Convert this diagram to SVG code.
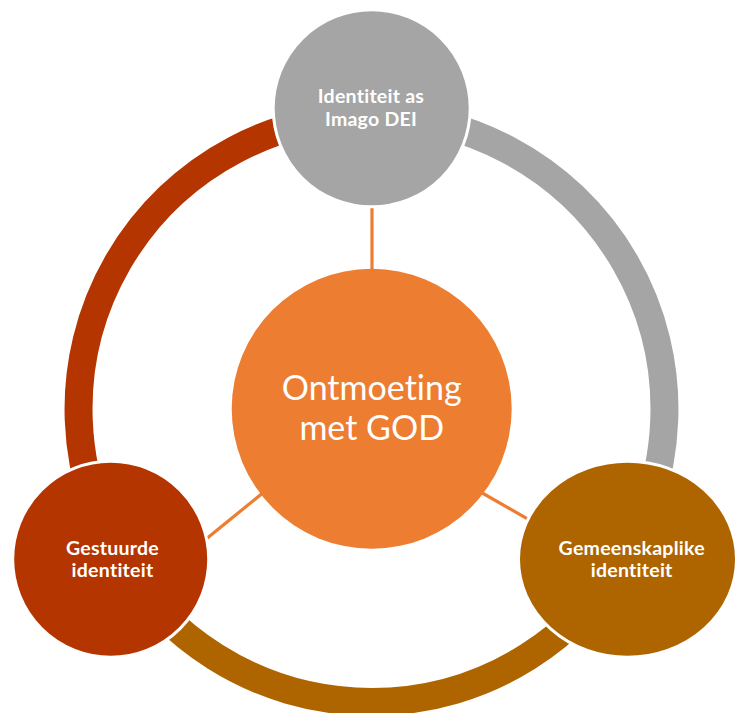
<svg xmlns="http://www.w3.org/2000/svg" width="737" height="713" viewBox="0 0 737 713">
<style>
.arc{fill:none;stroke-width:28}
.link{stroke:#ED7D31;stroke-width:3.2;fill:none}
.node{stroke:#FFFFFF;stroke-width:3}
.lbl{font-family:Lato,"Liberation Sans",sans-serif;font-weight:bold;font-size:19.5px;letter-spacing:0.25px;fill:#FFFFFF;text-anchor:middle;font-variant-ligatures:none}
.main{font-family:Lato,"Liberation Sans",sans-serif;font-size:34px;fill:#FFFFFF;text-anchor:middle;font-variant-ligatures:none}
</style>
<rect width="737" height="713" fill="#FFFFFF"/>
<g id="connectors">
<path class="arc" stroke="#B43500" d="M 117.8 555.5 A 293 293 0 0 1 371.5 116"/>
<path class="arc" stroke="#A5A5A5" d="M 371.5 116 A 293 293 0 0 1 625.2 555.5"/>
<path class="arc" stroke="#AE6500" d="M 625.2 555.5 A 293 293 0 0 1 117.8 555.5"/>
<line class="link" x1="372" y1="200" x2="372" y2="285"/>
<line class="link" x1="275" y1="483" x2="200" y2="544"/>
<line class="link" x1="470" y1="486" x2="540" y2="526"/>
</g>
<g id="node-center">
<circle cx="371.7" cy="408.8" r="140" fill="#ED7D31"/>
<text class="main" x="371.7" y="400">Ontmoeting</text>
<text class="main" x="371.7" y="440">met GOD</text>
</g>
<g id="node-top">
<circle class="node" cx="371.7" cy="108.3" r="98.5" fill="#A5A5A5"/>
<text class="lbl" x="371" y="102.7">Identiteit as</text>
<text class="lbl" x="371" y="125.7">Imago DEI</text>
</g>
<g id="node-left">
<circle class="node" cx="110.7" cy="559.3" r="98" fill="#B43500"/>
<text class="lbl" x="112.5" y="555">Gestuurde</text>
<text class="lbl" x="112.5" y="577">identiteit</text>
</g>
<g id="node-right">
<ellipse class="node" cx="627.5" cy="559.3" rx="109" ry="98" fill="#AE6500"/>
<text class="lbl" x="631.7" y="555">Gemeenskaplike</text>
<text class="lbl" x="631.7" y="577">identiteit</text>
</g>
</svg>
